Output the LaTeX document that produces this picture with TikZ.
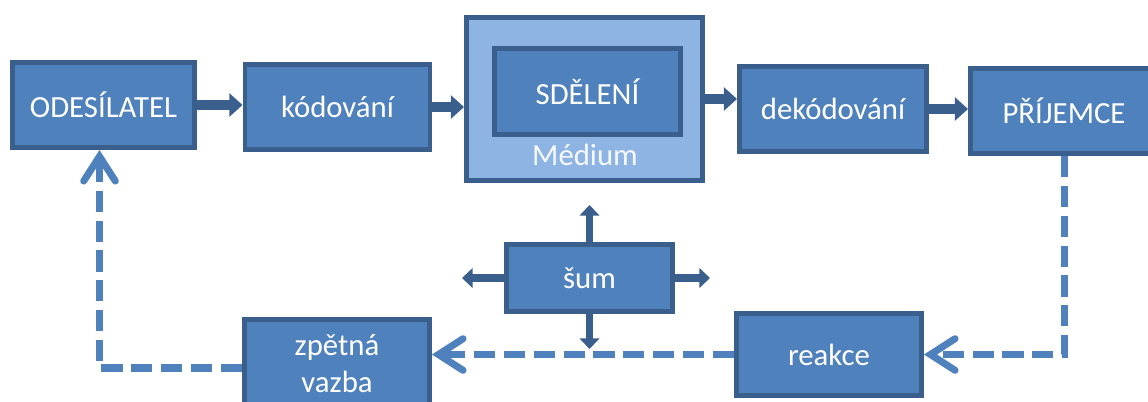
\documentclass[tikz,border=0pt]{standalone}
\usepackage{fontspec}
\setmainfont{Carlito}
\usetikzlibrary{arrows.meta,positioning,calc}
\definecolor{boxblue}{RGB}{79,129,189}
\definecolor{edgeblue}{RGB}{58,95,140}
\definecolor{medblue}{RGB}{141,180,226}
\definecolor{dashblue}{RGB}{79,129,189}

\begin{document}
\begin{tikzpicture}[
  box/.style={draw=edgeblue, line width=2.8pt, fill=boxblue, text=white, align=center,
    minimum width=3.7cm, minimum height=1.7cm, font=\fontsize{17.5}{21}\selectfont},
  flow/.style={edgeblue, line width=5.5pt, -{Triangle[length=7.5pt,width=13pt]}},
  noise/.style={edgeblue, line width=4.5pt, -{Triangle[length=6pt,width=11pt]}},
  back/.style={dashblue, line width=4pt, dash pattern=on 12pt off 5pt,
    -{Straight Barb[length=14pt,width=18pt,line cap=round]}}]
  \useasboundingbox (0,0) rectangle (22.96,-8.02);

  % top row
  \node[box, minimum width=3.64cm] (ods) at (2.07,-2.10) {ODESÍLATEL};
  \node[box] (kod) at (6.75,-2.14) {kódování};
  \node[box, fill=medblue, minimum width=4.72cm, minimum height=3.26cm] (med) at (11.69,-1.98) {};
  \node[box, minimum width=3.72cm, minimum height=1.72cm] (sdel) at (11.75,-1.83) {SDĚLENÍ};
  \node[text=white!92!medblue, font=\fontsize{17.5}{21}\selectfont] (medlab) at (11.70,-3.10) {Médium};
  \node[box, minimum width=3.74cm] (dek) at (16.66,-2.18) {dekódování};
  \node[box, minimum width=3.74cm] (pri) at (21.28,-2.22) {PŘÍJEMCE};

  % noise
  \node[box, minimum width=3.32cm, minimum height=1.34cm] (sum) at (11.79,-5.56) {šum};
  \coordinate (nup) at (11.79,-4.10);
  \coordinate (ndown) at (11.79,-6.98);
  \coordinate (nleft) at (9.24,-5.56);
  \coordinate (nright) at (14.20,-5.56);

  % bottom row
  \node[box, minimum height=1.78cm] (zpet) at (6.74,-7.28) {zpětná\\vazba};
  \node[box, minimum height=1.64cm] (reak) at (16.58,-7.09) {reakce};

  \draw[flow] (ods.east) -- (ods.east -| kod.west);
  \draw[flow] (kod.east) -- (kod.east -| med.west);
  \draw[flow] (med.east) -- (med.east -| dek.west);
  \draw[flow] (dek.east) -- (dek.east -| pri.west);

  \draw[noise] (sum.north) -- (nup);
  \draw[noise] (sum.south) -- (ndown);
  \draw[noise] (sum.west) -- (nleft);
  \draw[noise] (sum.east) -- (nright);

  \draw[back] (pri.south) |- (reak.east);
  \draw[back] (reak.west) -- (reak.west -| zpet.east);
  \draw[back] ($(zpet.west)+(0,-0.08)$) -| ($(ods.south)+(-0.08,0)$);
\end{tikzpicture}
\end{document}
